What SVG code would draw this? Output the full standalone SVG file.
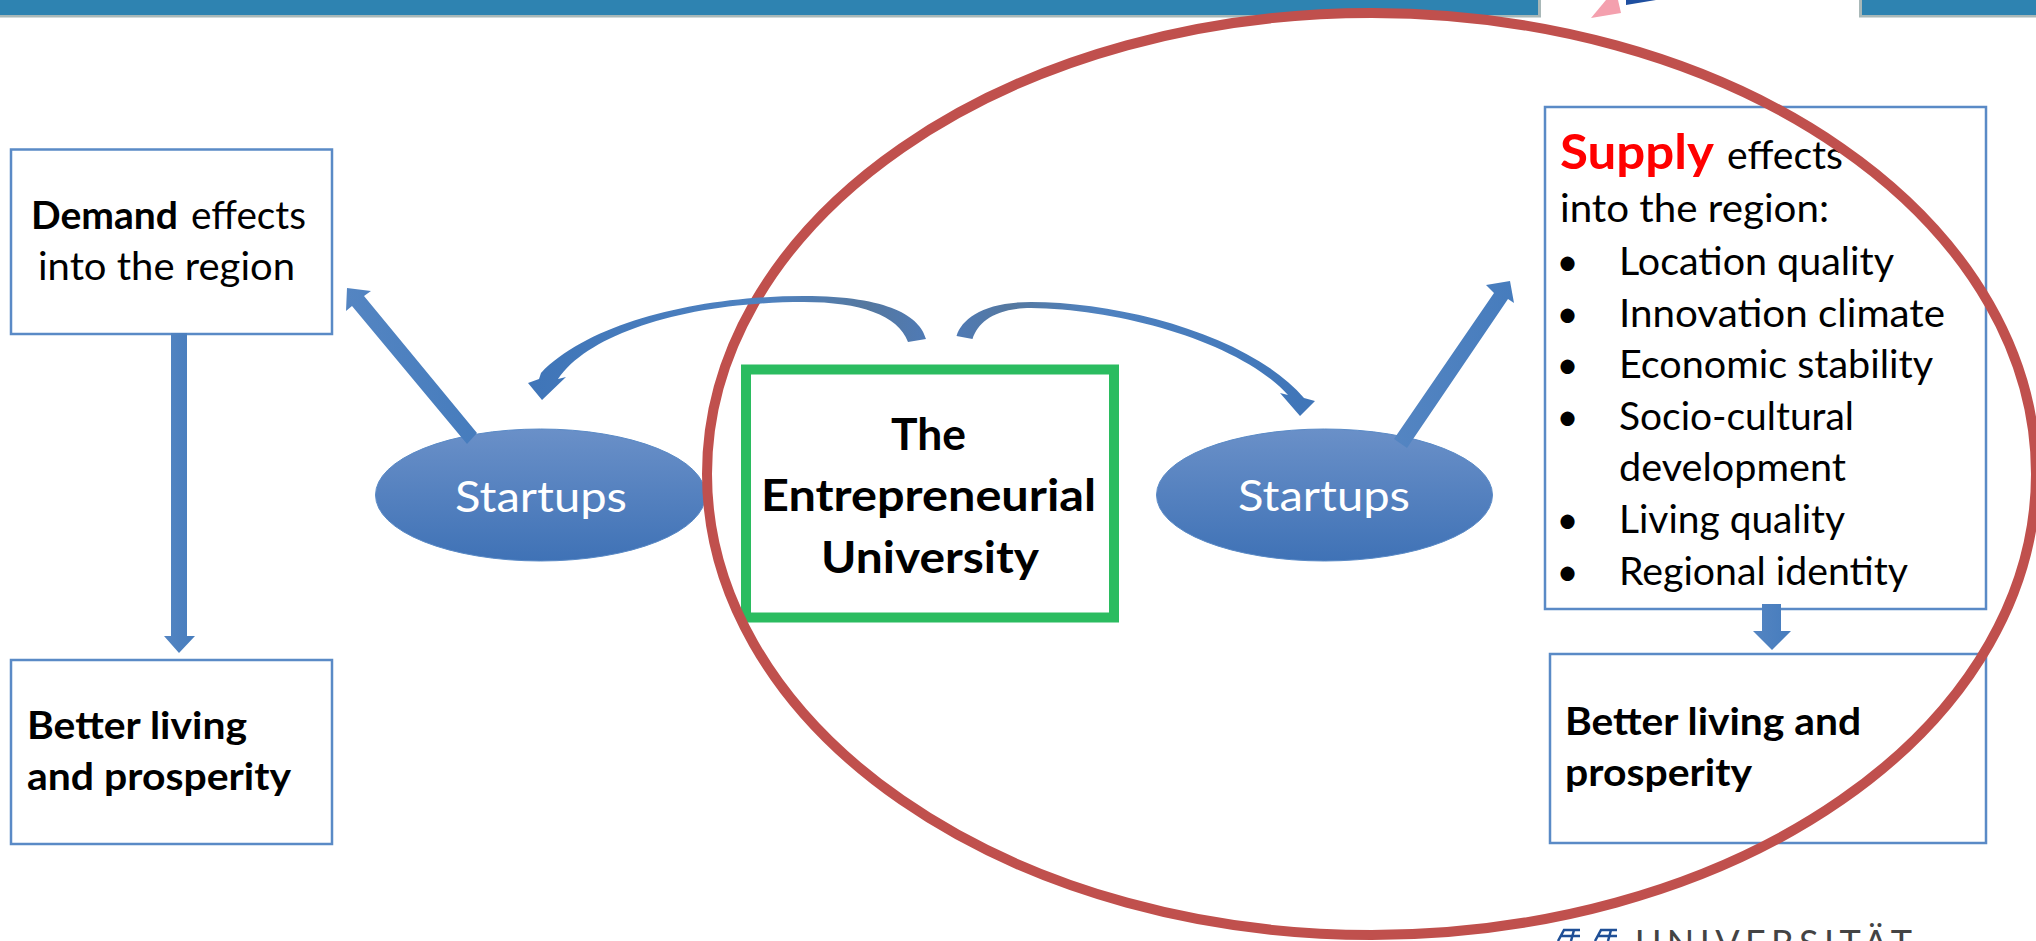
<svg xmlns="http://www.w3.org/2000/svg" width="2036" height="941" viewBox="0 0 2036 941">
<style>
text{font-family:Lato,"Liberation Sans",sans-serif;fill:#000;font-size:38px}
.b{font-weight:700}
.u{font-size:43px}
.box{fill:#fff;stroke:#5a8ac6;stroke-width:2.5}
.arrow{fill:url(#ag)}
.st{fill:#fff;font-size:43px}
.el{fill:url(#eg);stroke:#5a8ac6;stroke-width:1}
.bu{text-anchor:middle}
</style>
<defs>
<linearGradient id="eg" x1="0" y1="0" x2="0" y2="1"><stop offset="0" stop-color="#6a90c8"/><stop offset="1" stop-color="#3f72b6"/></linearGradient>
<linearGradient id="ag" x1="0" y1="0" x2="1" y2="0"><stop offset="0" stop-color="#5485c2"/><stop offset="1" stop-color="#467cbd"/></linearGradient>
<linearGradient id="cl" gradientUnits="userSpaceOnUse" x1="530" y1="0" x2="926" y2="0"><stop offset="0" stop-color="#3f75b8"/><stop offset="0.6" stop-color="#4f82c0"/><stop offset="0.85" stop-color="#55789f"/><stop offset="1" stop-color="#4f7ab5"/></linearGradient>
<linearGradient id="cr" gradientUnits="userSpaceOnUse" x1="956" y1="0" x2="1315" y2="0"><stop offset="0" stop-color="#4f7ab5"/><stop offset="0.15" stop-color="#55789f"/><stop offset="0.4" stop-color="#4f82c0"/><stop offset="1" stop-color="#3f75b8"/></linearGradient>
</defs>
<rect width="2036" height="941" fill="#fff"/>
<g id="header">
<rect x="0" y="0" width="1541" height="17.5" fill="#a8b8b8"/>
<rect x="0" y="0" width="1538" height="15" fill="#2e83b1"/>
<rect x="1859" y="0" width="177" height="17.5" fill="#a8b8b8"/>
<rect x="1862" y="0" width="174" height="15" fill="#2e83b1"/>
<polygon points="1591,18 1621,13 1618,0 1606,0" fill="#f4a0ae"/>
<polygon points="1626,5 1656,0 1626,0" fill="#1f4fa0"/>
</g>
<g id="demand"><rect class="box" x="11" y="149.500" width="321" height="184.500"/>
<text y="229"><tspan class="b" x="31" textLength="147" lengthAdjust="spacingAndGlyphs">Demand</tspan><tspan x="191" textLength="115" lengthAdjust="spacingAndGlyphs">effects</tspan></text>
<text x="38" y="280" textLength="257" lengthAdjust="spacingAndGlyphs">into the region</text></g>
<g id="better-left"><rect class="box" x="11" y="660" width="321" height="184"/>
<text class="b" x="27" y="739" textLength="220" lengthAdjust="spacingAndGlyphs">Better living</text>
<text class="b" x="27" y="790" textLength="264" lengthAdjust="spacingAndGlyphs">and prosperity</text></g>
<g id="supply"><rect class="box" x="1545" y="107" width="441" height="502"/>
<text y="169"><tspan class="b" x="1560" style="fill:#f00;font-size:48px" textLength="154" lengthAdjust="spacingAndGlyphs">Supply</tspan><tspan x="1727" textLength="116" lengthAdjust="spacingAndGlyphs">effects</tspan></text>
<text x="1560" y="222" textLength="269" lengthAdjust="spacingAndGlyphs">into the region:</text>
<text class="bu" x="1567.5" y="275">•</text><text x="1619" y="275" textLength="275" lengthAdjust="spacingAndGlyphs">Location quality</text>
<text class="bu" x="1567.5" y="327">•</text><text x="1619" y="327" textLength="326" lengthAdjust="spacingAndGlyphs">Innovation climate</text>
<text class="bu" x="1567.5" y="378">•</text><text x="1619" y="378" textLength="314" lengthAdjust="spacingAndGlyphs">Economic stability</text>
<text class="bu" x="1567.5" y="430">•</text><text x="1619" y="430" textLength="235" lengthAdjust="spacingAndGlyphs">Socio-cultural</text>
<text x="1619" y="481" textLength="227" lengthAdjust="spacingAndGlyphs">development</text>
<text class="bu" x="1567.5" y="533">•</text><text x="1619" y="533" textLength="226" lengthAdjust="spacingAndGlyphs">Living quality</text>
<text class="bu" x="1567.5" y="585">•</text><text x="1619" y="585" textLength="289" lengthAdjust="spacingAndGlyphs">Regional identity</text></g>
<g id="better-right"><rect class="box" x="1550" y="654" width="436" height="189"/>
<text class="b" x="1565" y="735" textLength="296" lengthAdjust="spacingAndGlyphs">Better living and</text>
<text class="b" x="1565" y="786" textLength="187" lengthAdjust="spacingAndGlyphs">prosperity</text></g>
<g id="university"><rect x="746" y="369.500" width="368" height="248" fill="#fff" stroke="#2bbc60" stroke-width="10"/>
<text class="b u" x="891" y="450" textLength="75" lengthAdjust="spacingAndGlyphs">The</text>
<text class="b u" x="761" y="511" textLength="335" lengthAdjust="spacingAndGlyphs">Entrepreneurial</text>
<text class="b u" x="821" y="573" textLength="218" lengthAdjust="spacingAndGlyphs">University</text></g>
<g id="startups-left"><ellipse class="el" cx="540.500" cy="495" rx="165" ry="66"/><text class="st" x="455" y="512" textLength="172" lengthAdjust="spacingAndGlyphs">Startups</text></g>
<g id="startups-right"><ellipse class="el" cx="1324.500" cy="495" rx="168" ry="66"/><text class="st" x="1238" y="511" textLength="172" lengthAdjust="spacingAndGlyphs">Startups</text></g>
<g id="focus"><ellipse cx="1371.500" cy="474" rx="664.500" ry="461" fill="none" stroke="#c0504d" stroke-width="10"/></g>
<g id="connectors">
<path fill="url(#cl)" d="M926,339 C920,317 890,296 804,296 C700,296 590,322 541,373 L539,379 L528,383 L542,400 L566,377 L558,379 C590,332 690,302 804,302 C860,302 898,315 908,342 Z"/>
<path fill="url(#cr)" d="M956.500,336 C962,318 985,302 1031,302 C1120,302 1250,335 1304,398 L1315,401 L1300,416 L1280,393 L1288,395 C1240,342 1120,309 1031,308 C995,308 978,322 972.500,339 Z"/>
<polygon class="arrow" points="347,288 371,291 364,296 477,433 467,444 352,306 346,311"/>
<polygon class="arrow" points="171,333 187,333 187,636 195,636 179,653 164,636 171,636"/>
<polygon class="arrow" points="1510,281 1486,285 1494,293 1398,433 1394,439 1407,448 1508,299 1514,303"/>
<polygon class="arrow" points="1762,604 1781,604 1781,631 1791,631 1772,650 1753,631 1762,631"/>
</g>
<g id="logo">
<path d="M1558,941 L1564,930 H1580 M1561,936 H1580 M1574,930 L1571,941 M1595,941 L1601,930 H1617 M1598,936 H1617 M1611,930 L1608,941" fill="none" stroke="#1f4f96" stroke-width="2.500"/>
<text x="1635" y="956" style="font-size:36px;fill:#444" textLength="277" lengthAdjust="spacing">UNIVERSITÄT</text>
</g>
</svg>
